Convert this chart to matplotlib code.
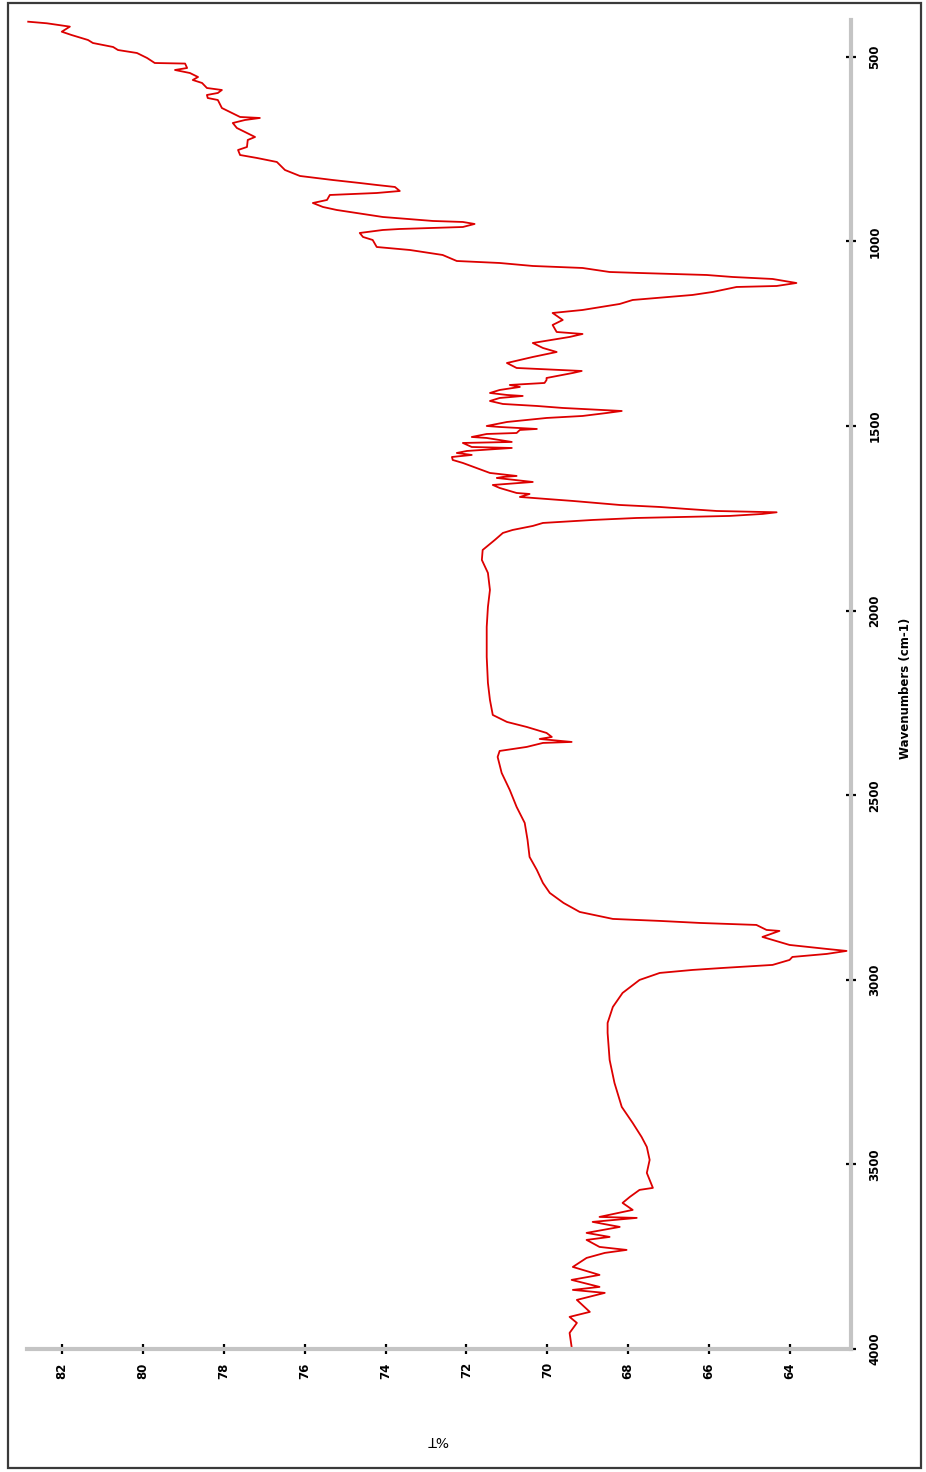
import matplotlib
matplotlib.use("Agg")
import matplotlib.pyplot as plt
from matplotlib.patches import Rectangle
from matplotlib.ticker import MultipleLocator
import numpy as np

# Wavenumber (cm-1) and transmittance (%T)
wavenumber = [
    404.6, 408.9, 418.0, 431.7, 440.6, 454.2, 462.3, 473.1, 481.3, 489.4,
    502.9, 516.5, 518.0, 530.0, 535.4, 543.6, 554.4, 562.5, 570.6, 584.2,
    589.6, 597.7, 603.1, 611.3, 616.7, 638.4, 649.2, 662.7, 665.4, 670.9,
    679.0, 692.5, 706.1, 716.9, 725.0, 744.0, 752.1, 765.7, 773.8, 784.6,
    806.3, 822.5, 833.4, 841.5, 846.9, 852.3, 863.2, 868.6, 874.0, 887.5,
    895.7, 906.5, 914.6, 933.6, 944.4, 947.1, 952.5, 960.7, 963.4, 966.1,
    968.8, 976.9, 987.7, 995.9, 1014.9, 1023.0, 1036.5, 1052.8, 1058.2, 1066.3,
    1071.7, 1082.6, 1085.3, 1090.7, 1096.1, 1101.5, 1112.4, 1120.5, 1123.2, 1136.7,
    1144.8, 1153.0, 1158.4, 1169.2, 1185.5, 1193.6, 1212.6, 1226.1, 1245.1, 1250.5,
    1258.6, 1274.9, 1288.4, 1299.3, 1312.8, 1329.1, 1342.6, 1350.7, 1356.1, 1369.7,
    1375.1, 1383.2, 1388.6, 1394.0, 1402.2, 1410.3, 1415.7, 1418.4, 1423.9, 1432.0,
    1440.1, 1445.5, 1450.9, 1456.4, 1459.1, 1464.5, 1472.6, 1478.0, 1488.9, 1499.7,
    1502.4, 1507.8, 1510.5, 1518.7, 1521.4, 1529.5, 1532.2, 1543.0, 1545.7, 1556.6,
    1559.3, 1567.4, 1572.8, 1578.2, 1583.7, 1591.8, 1599.9, 1613.5, 1627.0, 1635.1,
    1637.8, 1640.5, 1651.4, 1659.5, 1667.6, 1681.2, 1683.9, 1692.0, 1702.8, 1713.7,
    1719.1, 1724.5, 1730.0, 1733.5, 1738.0, 1743.4, 1748.9, 1754.3, 1762.4, 1770.5,
    1781.4, 1789.5, 1808.5, 1835.6, 1862.6, 1897.8, 1943.9, 1989.9, 2044.1, 2125.4,
    2195.8, 2241.8, 2282.5, 2301.4, 2315.0, 2331.2, 2342.1, 2347.5, 2355.6, 2358.3,
    2369.1, 2380.0, 2396.2, 2439.6, 2485.6, 2531.7, 2575.0, 2621.1, 2667.1, 2702.3,
    2737.5, 2764.6, 2791.7, 2816.1, 2835.0, 2840.4, 2845.9, 2851.3, 2864.8, 2867.5,
    2883.8, 2891.9, 2905.5, 2916.3, 2921.7, 2929.8, 2938.0, 2946.1, 2959.6, 2967.8,
    2973.2, 2981.3, 3000.3, 3035.5, 3073.4, 3116.7, 3143.8, 3216.9, 3279.2, 3344.2,
    3387.6, 3425.5, 3452.6, 3487.8, 3523.0, 3563.6, 3569.0, 3588.0, 3604.3, 3623.2,
    3642.2, 3644.9, 3655.7, 3669.3, 3685.5, 3696.4, 3704.5, 3723.5, 3731.6, 3739.7,
    3753.3, 3777.7, 3799.3, 3812.8, 3831.8, 3839.9, 3848.0, 3867.0, 3899.5, 3913.0,
    3929.3, 3956.4, 3994.3,
]
transmittance = [
    82.84, 82.38, 81.81, 82.01, 81.77, 81.36, 81.24, 80.74, 80.62, 80.15,
    79.90, 79.71, 78.96, 78.91, 79.21, 78.84, 78.64, 78.77, 78.54, 78.42,
    78.05, 78.15, 78.42, 78.40, 78.15, 78.05, 77.85, 77.60, 77.11, 77.48,
    77.78, 77.68, 77.43, 77.23, 77.41, 77.43, 77.65, 77.60, 77.18, 76.69,
    76.49, 76.12, 75.31, 74.64, 74.22, 73.77, 73.65, 74.22, 75.38, 75.45,
    75.80, 75.55, 75.21, 74.07, 72.83, 72.09, 71.80, 72.09, 72.83, 73.65,
    74.07, 74.64, 74.56, 74.32, 74.22, 73.40, 72.59, 72.24, 71.18, 70.36,
    69.13, 68.46, 67.72, 66.06, 65.42, 64.43, 63.84, 64.33, 65.32, 65.91,
    66.41, 67.30, 67.89, 68.21, 69.13, 69.87, 69.62, 69.87, 69.77, 69.13,
    69.45, 70.36, 70.11, 69.77, 70.36, 71.00, 70.76, 69.15, 69.37, 70.02,
    70.02, 70.07, 70.93, 70.68, 71.18, 71.42, 71.00, 70.61, 71.18, 71.42,
    71.10, 70.26, 69.62, 68.63, 68.16, 68.53, 69.13, 70.02, 71.00, 71.50,
    71.18, 70.26, 70.68, 70.76, 71.50, 71.87, 71.50, 70.88, 72.09, 71.87,
    70.88, 71.99, 72.24, 71.87, 72.36, 72.34, 72.09, 71.75, 71.42, 70.76,
    71.10, 71.25, 70.36, 71.35, 71.18, 70.76, 70.44, 70.68, 69.37, 68.21,
    67.22, 66.55, 65.81, 64.33, 64.68, 65.49, 67.79, 68.88, 70.11, 70.36,
    70.86, 71.10, 71.30, 71.60, 71.62, 71.47, 71.42, 71.47, 71.50, 71.50,
    71.47, 71.42, 71.35, 71.00, 70.51, 70.02, 69.89, 70.19, 69.40, 70.11,
    70.51, 71.18, 71.23, 71.13, 70.93, 70.76, 70.56, 70.49, 70.44, 70.26,
    70.11, 69.94, 69.60, 69.20, 68.38, 67.22, 66.23, 64.83, 64.58, 64.26,
    64.68, 64.43, 64.01, 63.09, 62.60, 63.09, 63.94, 64.01, 64.43, 65.66,
    66.41, 67.22, 67.72, 68.14, 68.38, 68.51, 68.51, 68.46, 68.34, 68.16,
    67.89, 67.67, 67.54, 67.47, 67.54, 67.39, 67.72, 67.96, 68.14, 67.89,
    68.71, 67.79, 68.88, 68.21, 69.03, 68.46, 69.03, 68.71, 68.04, 68.58,
    69.03, 69.37, 68.71, 69.40, 68.71, 69.37, 68.58, 69.27, 68.95, 69.45,
    69.27, 69.45, 69.40,
]

wn_ticks = [500, 1000, 1500, 2000, 2500, 3000, 3500, 4000]
t_ticks = [64, 66, 68, 70, 72, 74, 76, 78, 80, 82]

W, H = 926, 1472
fig = plt.figure(figsize=(W / 100, H / 100), dpi=100)
fig.patch.set_facecolor("white")

ax = fig.add_axes([27 / W, 123 / H, 824 / W, 1329 / H])
ax.plot(transmittance, wavenumber, color="#dd0000", lw=1.3)

ax.set_xlim(82.87, 62.49)
ax.set_ylim(4000, 400)

for s in ("top", "left"):
    ax.spines[s].set_visible(False)
for s in ("bottom", "right"):
    ax.spines[s].set_color("#c4c4c4")
    ax.spines[s].set_linewidth(3)

ax.yaxis.tick_right()
ax.set_xticks(t_ticks)
ax.set_yticks(wn_ticks)
ax.xaxis.set_minor_locator(MultipleLocator(0.5))
ax.yaxis.set_minor_locator(MultipleLocator(100))
ax.tick_params(which="major", direction="inout", length=7, width=1.6, color="black")
ax.tick_params(which="minor", direction="inout", length=3, width=1.6, color="black")
ax.tick_params(axis="x", which="major", pad=6)
ax.tick_params(axis="y", which="major", pad=9)

ax.set_xticklabels([str(t) for t in t_ticks], rotation=90, fontsize=8.5,
                   fontweight="bold", va="top", ha="center")
ax.set_yticklabels([str(w) for w in wn_ticks], rotation=90, fontsize=8.5,
                   fontweight="bold", va="center", ha="left")

fig.text(906 / W, 1 - 688 / H, "Wavenumbers (cm-1)", rotation=90, fontsize=8.5,
         fontweight="bold", ha="center", va="center")
fig.text(437 / W, 1 - 1440 / H, "%T", rotation=180, fontsize=10,
         ha="center", va="center")

fig.patches.append(Rectangle((8 / W, 4 / H), 913 / W, 1465 / H, transform=fig.transFigure,
                             fill=False, edgecolor="#3a3a3a", lw=1.6))

fig.savefig("out.png", dpi=100, facecolor="white")
